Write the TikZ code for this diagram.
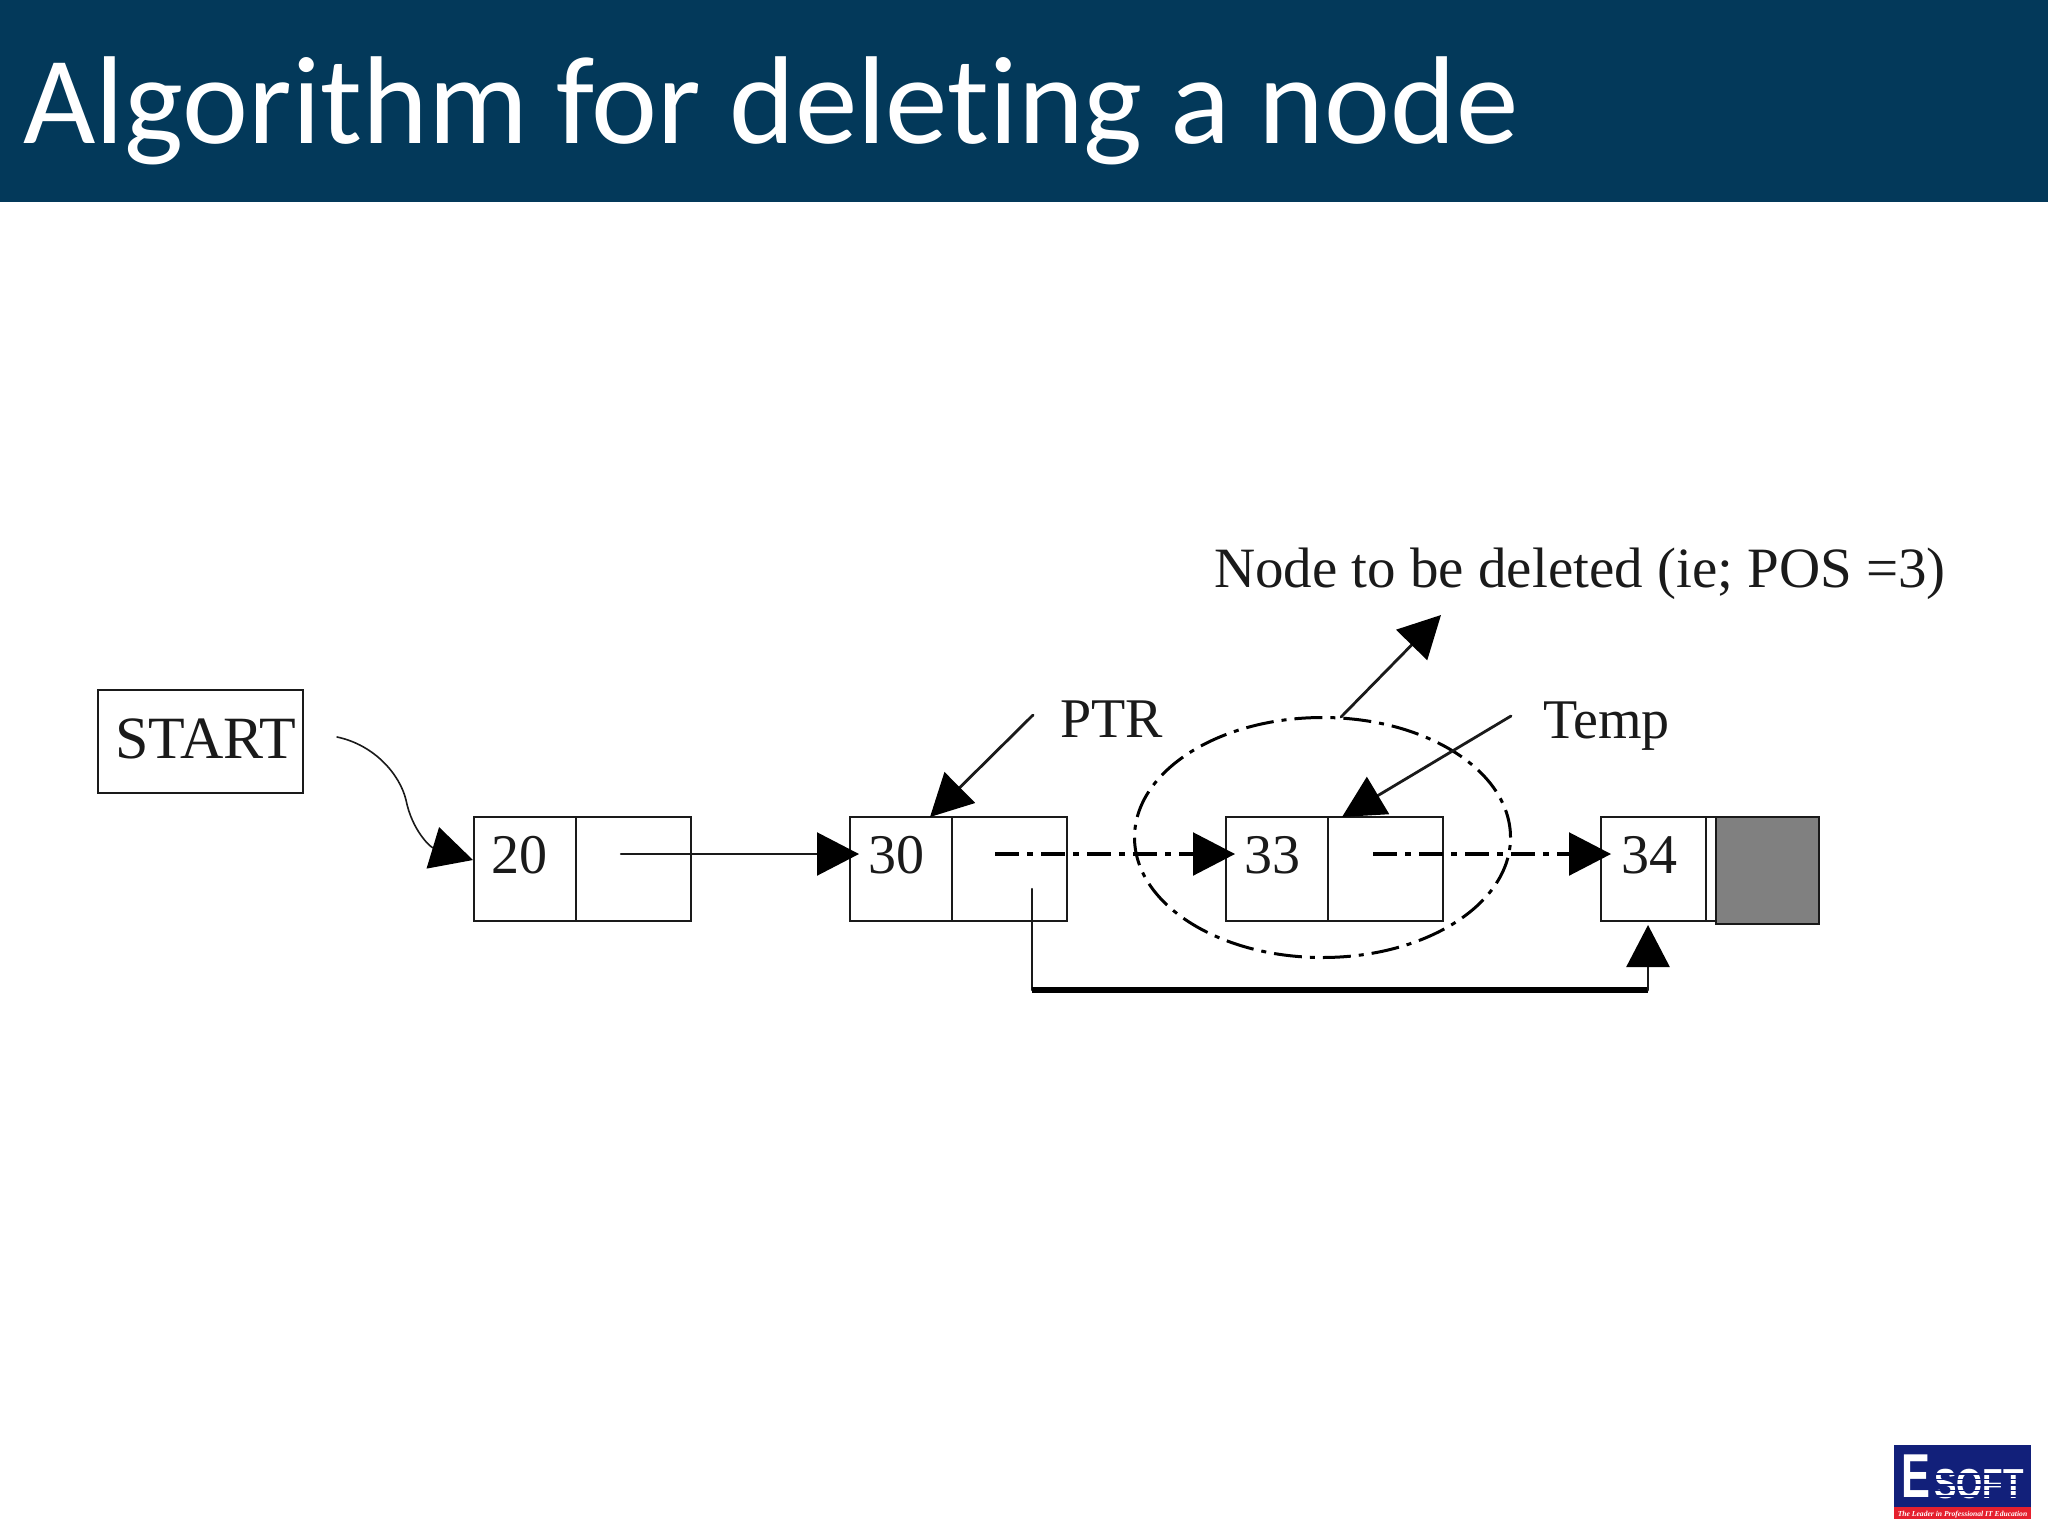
\documentclass[tikz,border=0pt]{standalone}
\usepackage{fontspec}
\setmainfont{Liberation Serif}
\newfontfamily\titlefont[Ligatures=NoCommon]{Carlito}
\newfontfamily\logofont{Liberation Sans}
\usetikzlibrary{arrows.meta,shapes.geometric,calc}
\definecolor{barblue}{HTML}{03395A}
\definecolor{ink}{HTML}{1A1A1A}
\definecolor{logoblue}{HTML}{12207A}
\definecolor{logored}{HTML}{E5202E}
\tikzset{
  cell/.style={draw=ink,line width=1.1pt,fill=white,inner sep=0,outer sep=0,minimum height=52pt},
  lbl/.style={anchor=base west,inner sep=0,outer sep=0,text=ink,font=\fontsize{28}{30}\selectfont},
  hd/.style={-{Triangle[length=21pt,width=21.5pt,inset=0pt,color=black,fill=black]}},
  thinline/.style={draw=ink,line width=1.1pt,line cap=round},
  dd/.style={draw=black,line width=1.8pt,dash pattern=on 12pt off 4pt on 3pt off 4pt},
}
\begin{document}
\begin{tikzpicture}[x=0.5pt,y=-0.5pt]
\useasboundingbox (0,0) rectangle (2048,1536);
\fill[white] (0,0) rectangle (2048,1536);
\fill[barblue] (0,0) rectangle (2048,202);
\node[anchor=base west,inner sep=0,text=white,font=\titlefont\fontsize{62.5}{70}\selectfont] (title) at (23,143) {Algorithm for deleting a node};

% START
\node[cell,minimum width=102.5pt,minimum height=51.5pt] (startbox) at (200.5,741.5) {};
\node[lbl,font=\fontsize{30}{32}\selectfont] (starttext) at (115,758) {START};

% list cells
\node[cell,minimum width=51pt] (n20a) at (525,869) {};
\node[cell,minimum width=57.5pt] (n20b) at (633.5,869) {};
\node[cell,minimum width=51pt] (n30a) at (901,869) {};
\node[cell,minimum width=57.5pt] (n30b) at (1009.5,869) {};
\node[cell,minimum width=51pt] (n33a) at (1277,869) {};
\node[cell,minimum width=57.5pt] (n33b) at (1385.5,869) {};
\node[cell,minimum width=52.5pt] (n34a) at (1653.5,869) {};
\node[cell,minimum width=5pt] (n34b) at (1711,869) {};
\node[cell,fill=black!50,minimum width=51.5pt,minimum height=53.5pt] (n34c) at (1767.5,870.5) {};

\node[lbl] (v20) at (491,873) {20};
\node[lbl] (v30) at (868,873) {30};
\node[lbl] (v33) at (1244,873) {33};
\node[lbl] (v34) at (1621,873) {34};
\node[lbl] (ptr) at (1060,737) {PTR};
\node[lbl] (temp) at (1543,738) {Temp};
\node[lbl,font=\fontsize{28.5}{30}\selectfont] (del) at (1214,587) {Node to be deleted (ie; POS =3)};

% ellipse
\node[draw=black,line width=1.5pt,ellipse,inner sep=0,outer sep=0,minimum width=188pt,minimum height=120pt,dash pattern=on 14pt off 4pt on 2.5pt off 4pt] (circ) at (1322.5,837.5) {};

% connector ends
\coordinate (startout) at (337,737);
\coordinate (in20) at (473,860);
\coordinate (p20) at (621,854);
\coordinate (in30) at (859,854);
\coordinate (p30) at (995,854);
\coordinate (in33) at (1235,854);
\coordinate (p33) at (1373,854);
\coordinate (in34) at (1611,854);
\coordinate (ptrfrom) at (1033,715);
\coordinate (ptrto) at (930,817);
\coordinate (delfrom) at (1341,717);
\coordinate (delto) at (1441,615);
\coordinate (tempfrom) at (1511,716);
\coordinate (tempto) at (1342,817);
\coordinate (linkfrom) at (1032,889);
\coordinate (linka) at (1032,990);
\coordinate (linkb) at (1648,990);
\coordinate (linkto) at (1648,925);

\draw[thinline,line width=0.8pt,hd] (startout) .. controls (375,745) and (400,775) .. (406,800) .. controls (412,830) and (430,847) .. (in20);
\draw[thinline,hd] (p20) -- (in30);
\draw[dd] (p30) -- ($(in33)+(-30,0)$);
\draw[thinline,hd] ($(in33)+(-30,0)$) -- (in33);
\draw[dd] (p33) -- ($(in34)+(-30,0)$);
\draw[thinline,hd] ($(in34)+(-30,0)$) -- (in34);
\draw[thinline,line width=1.4pt,hd] (ptrfrom) -- (ptrto);
\draw[thinline,line width=1.4pt,hd] (delfrom) -- (delto);
\draw[thinline,line width=1.4pt,hd] (tempfrom) -- (tempto);
\draw[thinline] (linkfrom) -- (linka);
\draw[draw=black,line width=2.6pt] (linka) -- (linkb);
\draw[thinline,line width=1.4pt,hd] (linkb) -- (linkto);

% logo
\fill[logoblue] (1894,1445) rectangle (2031,1508);
\fill[logored] (1894,1507) rectangle (2031,1519);
\node[anchor=base west,inner sep=0,text=white,font=\logofont\bfseries\fontsize{31}{34}\selectfont] (logoe) at (1901,1497) {\scalebox{0.7}[1]{E}};
\node[anchor=base west,inner sep=0,text=white,font=\logofont\bfseries\fontsize{21}{23}\selectfont] (logosoft) at (1934,1498) {\scalebox{0.8}[1]{SOFT}};
\foreach \yy in {1473,1478.5,1484,1489.5,1495}
  \fill[logoblue] (1932,\yy) rectangle (2028,\yy+1.6);
\node[anchor=base,inner sep=0,text=white,font=\bfseries\itshape\fontsize{3.8}{5}\selectfont] (logotag) at (1962.5,1516) {The Leader in Professional IT Education};
\end{tikzpicture}
\end{document}
